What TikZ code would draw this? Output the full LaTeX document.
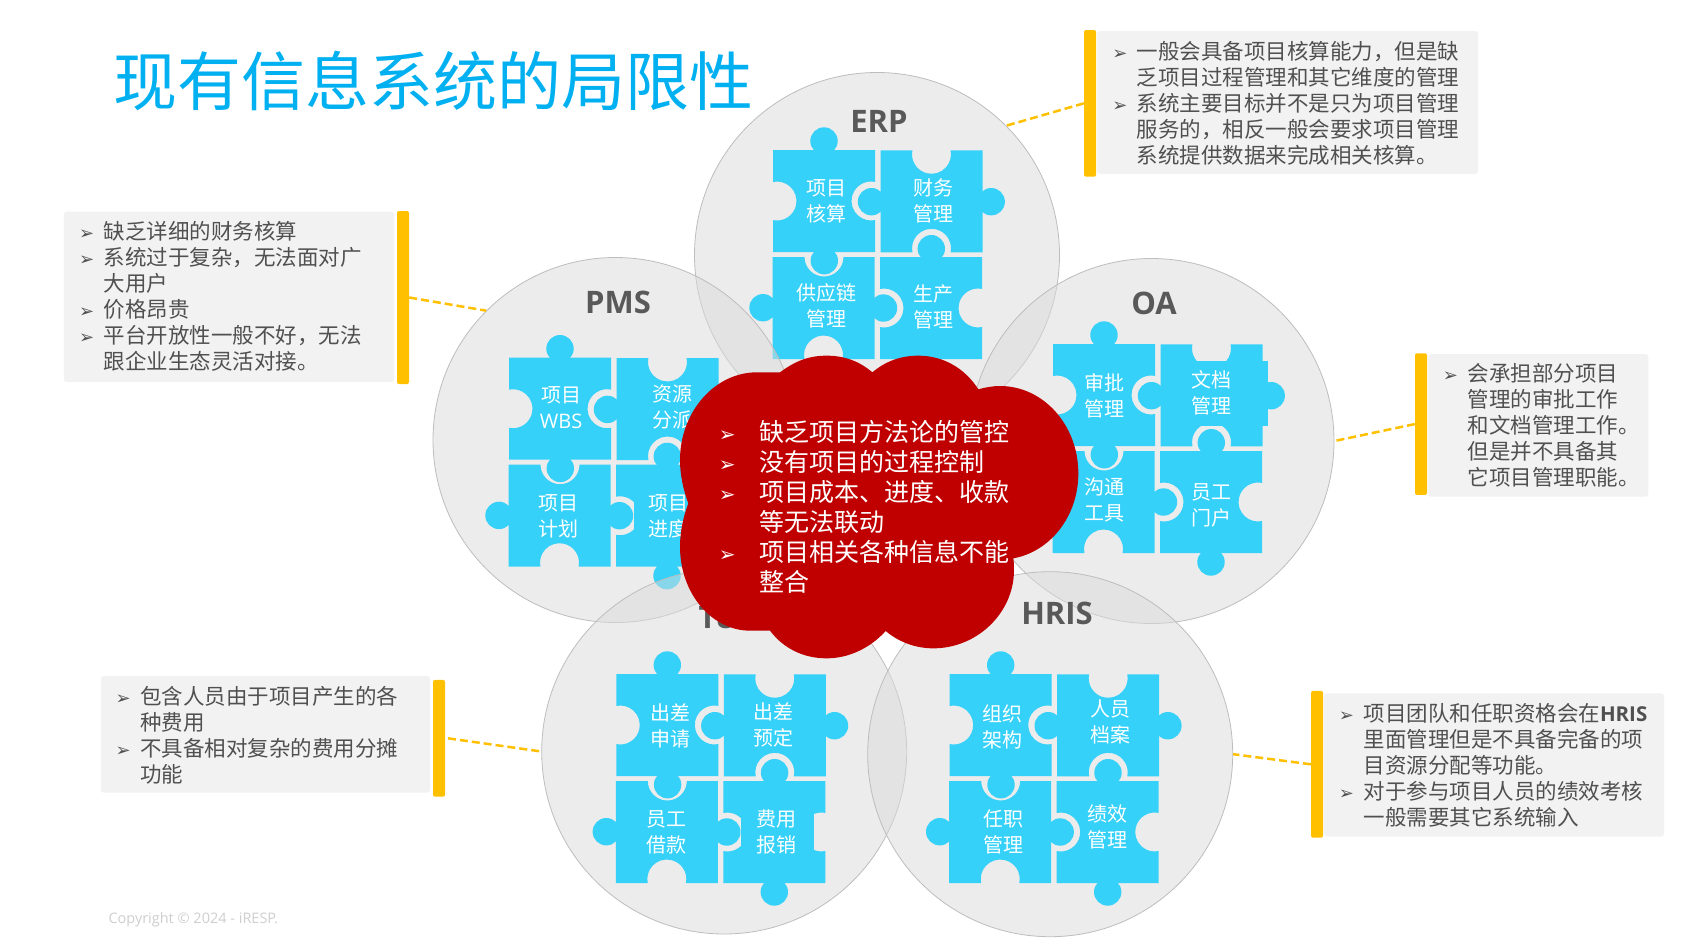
\documentclass[tikz,border=0pt]{standalone}
\usepackage{fontspec}
\setmainfont{Noto Sans CJK SC}
\newfontfamily\lat{Open Sans}
\newfontfamily\dejav{DejaVu Sans}
\definecolor{pz}{HTML}{36D1F9}
\definecolor{ring}{HTML}{BDBDBD}
\definecolor{bodyg}{HTML}{505050}
\definecolor{labg}{HTML}{595959}
\definecolor{amber}{HTML}{FFC000}
\definecolor{boxg}{HTML}{F2F2F2}
\definecolor{cloudred}{HTML}{C00000}
\definecolor{ttl}{HTML}{00B0F0}
\definecolor{crt}{HTML}{CFCFCF}
\newcommand{\bul}{\llap{{\dejav\fontsize{18}{18}\selectfont ➢}\hspace{9.5pt}}}
\newcommand{\bulw}{\llap{{\dejav\fontsize{20}{20}\selectfont ➢}\hspace{24pt}}}
\newcommand{\hr}{{\lat\bfseries\fontsize{20.5}{26}\selectfont HRIS}}
\newcommand{\wbs}{{\lat\fontsize{20}{26}\selectfont WBS}}
\tikzset{
  petal/.style={circle,inner sep=0pt,minimum size=365pt,fill=black!14,fill opacity=0.5,draw=ring,draw opacity=1,line width=0.8pt},
  petallabel/.style={text=labg,font=\lat\bfseries\fontsize{31}{31}\selectfont,inner sep=0pt},
  piecetext/.style={text=white,font=\fontsize{20}{26}\selectfont,align=center,inner sep=0pt},
  barstyle/.style={fill=amber,rounded corners=2pt,draw=none,inner sep=0pt,minimum width=12pt},
  notebox/.style={fill=boxg,rounded corners=3pt},
  notetext/.style={anchor=north west,inner sep=0pt,align=left,text=bodyg,font=\fontsize{21.5}{26}\selectfont},
  dashconn/.style={draw=amber,line width=2.5pt,dash pattern=on 8pt off 4pt},
}
\newcommand{\puzzle}[2]{%
\begin{scope}[shift={(#1,#2)}]
  % piece 1
  \fill[pz] (0,0)--(102,0)--(102,31.9) arc[start angle=-78.2,end angle=-281.8,radius=19.5]
    --(102,102)--(0,102)--(0,70.1) arc[start angle=101.8,end angle=-101.8,radius=19.5]--cycle;
  % piece 2
  \begin{scope}[shift={(107.5,0.3)}]
  \fill[pz] (0,0)--(31.9,0) arc[start angle=191.8,end angle=-11.8,radius=19.5]
    --(102,0)--(102,102)--(70.1,102) arc[start angle=11.8,end angle=-191.8,radius=19.5]--(0,102)--cycle;
  \end{scope}
  % piece 3
  \begin{scope}[shift={(-0.5,107)}]
  \fill[pz] (0,0)--(32,0) arc[start angle=180,end angle=0,radius=19.5]
    --(102,0)--(102,102)--(70.1,102) arc[start angle=11.8,end angle=-191.8,radius=19.5]--(0,102)--cycle;
  \end{scope}
  % piece 4
  \begin{scope}[shift={(107,107)}]
  \fill[pz] (0,0)--(102,0)--(102,31.9) arc[start angle=-78.2,end angle=-281.8,radius=19.5]
    --(102,102)--(0,102)--(0,70.1) arc[start angle=101.8,end angle=-101.8,radius=19.5]--cycle;
  \end{scope}
  % tabs
  \fill[pz] (51,-9) circle[radius=13.7];
  \fill[pz] (51.3,110.7) circle[radius=13.7];
  \fill[pz] (98.5,51.7) circle[radius=13.7];
  \fill[pz] (218.2,51.7) circle[radius=13.7];
  \fill[pz] (-10,157.7) circle[radius=13.7];
  \fill[pz] (110.5,158) circle[radius=13.7];
  \fill[pz] (158.3,98.7) circle[radius=13.7];
  \fill[pz] (158,218) circle[radius=13.7];
\end{scope}}
\begin{document}
\begin{tikzpicture}[x=1pt,y=-1pt]
\useasboundingbox (0,0) rectangle (1687,945);
\fill[white] (0,0) rectangle (1687,945);

\node[anchor=west,inner sep=0pt,text=ttl,font=\fontsize{64}{64}\selectfont] (title) at (113,81) {现有信息系统的局限性};

% ERP
\node[petal] (erp) at (877,255) {};
\puzzle{773}{150}
\node[petallabel] (erpl) at (879,121) {ERP};
\node[piecetext] (e1) at (826,201) {项目\\核算};
\node[piecetext] (e2) at (933,201) {财务\\管理};
\node[piecetext] (e3) at (826,306) {供应链\\管理};
\node[piecetext] (e4) at (933,307) {生产\\管理};

% OA
\node[petal] (oa) at (1151.5,441) {};
\puzzle{1053}{344}
\fill[pz] (1170,360.7) rectangle (1267.7,425.7);
\node[petallabel] (oal) at (1154,303) {OA};
\node[piecetext] (o1) at (1104,396) {审批\\管理};
\node[piecetext] (o2) at (1211,393) {文档\\管理};
\node[piecetext] (o3) at (1104,500) {沟通\\工具};
\node[piecetext] (o4) at (1211,505) {员工\\门户};

% PMS
\node[petal] (pms) at (615.5,440) {};
\puzzle{509}{357.7}
\fill[pz] (633.7,490) rectangle (700,540);
\node[petallabel] (pmsl) at (618,302) {PMS};
\node[piecetext] (p1) at (561,408) {项目\\\wbs};
\node[piecetext] (p2) at (672,407) {资源\\分派};
\node[piecetext] (p3) at (558,516) {项目\\计划};
\node[piecetext] (p4) at (668,516) {项目\\进度};

% T&E
\node[petal] (te) at (724.2,751.5) {};
\puzzle{616.3}{674}
\fill[pz] (741,790) rectangle (814,870);
\node[petallabel] (tel) at (728,617) {T\&E};
\node[piecetext] (t1) at (670,726) {出差\\申请};
\node[piecetext] (t2) at (773,725) {出差\\预定};
\node[piecetext] (t3) at (666,832) {员工\\借款};
\node[piecetext] (t4) at (776,832) {费用\\报销};

% HRIS
\node[petal] (hr) at (1050.2,754.2) {};
\puzzle{949.7}{674}
\node[petallabel] (hrl) at (1057,613) {HRIS};
\node[piecetext] (h1) at (1002,727) {组织\\架构};
\node[piecetext] (h2) at (1110,722) {人员\\档案};
\node[piecetext] (h3) at (1003,832) {任职\\管理};
\node[piecetext] (h4) at (1107,827) {绩效\\管理};

% Cloud
\begin{scope}[shift={(660,340)},x=0.33333pt,y=-0.33333pt]
\fill[cloudred] (360,97) .. controls (410,60) and (450,47) .. (500,47) .. controls (555,47) and (600,65) .. (637,97)
 .. controls (675,65) and (720,47) .. (775,47) .. controls (850,47) and (915,85) .. (955,148)
 .. controls (975,142) and (1000,138) .. (1020,138) .. controls (1150,138) and (1255,255) .. (1255,400) .. controls (1255,530) and (1170,635) .. (1060,655)
 .. controls (1062,670) and (1062,680) .. (1062,690) .. controls (1062,820) and (950,925) .. (820,925) .. controls (765,925) and (715,905) .. (677,873)
 .. controls (630,925) and (565,955) .. (500,955) .. controls (430,955) and (370,925) .. (330,872)
 .. controls (310,872) and (290,872) .. (270,872) .. controls (155,872) and (60,760) .. (60,620) .. controls (60,575) and (70,530) .. (85,490)
 .. controls (70,450) and (60,405) .. (60,360) .. controls (60,215) and (165,97) .. (290,97) .. controls (315,97) and (340,97) .. (360,97) -- cycle;
\end{scope}
\node[anchor=north west,inner sep=0pt,align=left,text=white,font=\fontsize{25}{30}\selectfont] (cloudtext) at (759.3,419.8)
 {\bulw 缺乏项目方法论的管控\\\bulw 没有项目的过程控制\\\bulw 项目成本、进度、收款\\等无法联动\\\bulw 项目相关各种信息不能\\整合};

% Note ERP
\fill[notebox] (1097.3,31) rectangle (1478,174);
\node[barstyle,minimum height=146.7pt] (ebar) at (1090,103.35) {};
\node[notetext] (en) at (1136.7,41.6) {\bul 一般会具备项目核算能力，但是缺\\乏项目过程管理和其它维度的管理\\\bul 系统主要目标并不是只为项目管理\\服务的，相反一般会要求项目管理\\系统提供数据来完成相关核算。};
\draw[dashconn] (ebar.west) -- (erp.45);

% Note PMS
\fill[notebox] (63.8,211.7) rectangle (394,382);
\node[barstyle,minimum height=173pt] (pbar) at (403,297.5) {};
\node[notetext] (pn) at (103.6,221.6) {\bul 缺乏详细的财务核算\\\bul 系统过于复杂，无法面对广\\大用户\\\bul 价格昂贵\\\bul 平台开放性一般不好，无法\\跟企业生态灵活对接。};
\draw[dashconn] (pbar.east) -- (pms.135);

% Note OA
\fill[notebox] (1428.3,354) rectangle (1648.3,496.7);
\node[barstyle,minimum height=141.7pt] (obar) at (1421,424.1) {};
\node[notetext] (on) at (1467.3,363.3) {\bul 会承担部分项目\\管理的审批工作\\和文档管理工作。\\但是并不具备其\\它项目管理职能。};
\draw[dashconn] (obar.west) -- (oa.east);

% Note HRIS
\fill[notebox] (1324,693.3) rectangle (1664,836.7);
\node[barstyle,minimum height=146.7pt] (hbar) at (1317,764.3) {};
\node[notetext] (hn) at (1363.3,703.6) {\bul 项目团队和任职资格会在\hr\\里面管理但是不具备完备的项\\目资源分配等功能。\\\bul 对于参与项目人员的绩效考核\\一般需要其它系统输入};
\draw[dashconn] (hbar.west) -- (hr.east);

% Note T&E
\fill[notebox] (101,676) rectangle (430,792.7);
\node[barstyle,minimum height=116.7pt] (tbar) at (439,738.3) {};
\coordinate (tstart) at (448,738.3);
\node[notetext] (tn) at (140,686) {\bul 包含人员由于项目产生的各\\种费用\\\bul 不具备相对复杂的费用分摊\\功能};
\draw[dashconn] (tstart) -- (te.west);

\node[anchor=west,inner sep=0pt,text=crt,font=\lat\fontsize{14.5}{16}\selectfont] (copy) at (108.3,920) {Copyright © 2024 - iRESP.};
\end{tikzpicture}
\end{document}
